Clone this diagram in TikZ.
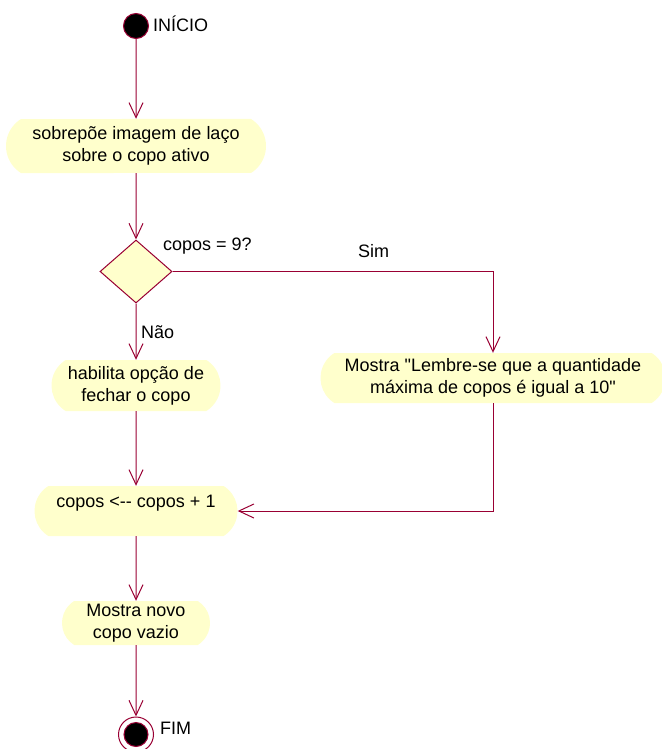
\documentclass[tikz,border=0pt]{standalone}
\usepackage{fontspec}
\usetikzlibrary{arrows.meta,shapes.geometric,shapes.misc}
\newfontfamily\umlfont{Liberation Sans}
\definecolor{flowline}{RGB}{153,0,51}
\definecolor{actfill}{RGB}{255,255,204}
\tikzset{
  every node/.style={font=\umlfont\fontsize{18}{22}\selectfont},
  activity/.style={rounded rectangle, rounded rectangle arc length=116,
    fill=actfill, draw=none, inner sep=0pt, align=center},
  decision/.style={diamond, fill=actfill, draw=flowline, line width=1pt,
    inner sep=0pt, minimum width=72pt, minimum height=63pt},
  flow/.style={draw=flowline, line width=1pt,
    -{Straight Barb[length=15pt,width=14pt,line width=1pt]}},
  lbl/.style={anchor=west, inner sep=0pt}
}
\begin{document}
\begin{tikzpicture}[x=1pt,y=-1pt]
\useasboundingbox (0,0) rectangle (661,749);

% initial state
\node[circle, fill=black, draw=flowline, line width=1pt, minimum size=25pt,
  inner sep=0pt] (start) at (136,26) {};
\node[lbl] (startlbl) at (153,24) {INÍCIO};

% activities
\node[activity, minimum width=260pt, minimum height=54pt] (laco) at (136,146)
  {sobrepõe imagem de laço\\sobre o copo ativo};
\node[decision] (dec) at (136,271.5) {};
\node[lbl] (cond) at (163,246) {copos = 9?};
\node[lbl] (sim) at (358,251) {Sim};
\node[lbl] (nao) at (141,332) {Não};
\node[activity, minimum width=169pt, minimum height=51pt] (fechar) at (136,385.5)
  {habilita opção de\\fechar o copo};
\node[activity, minimum width=345pt, minimum height=50pt] (aviso) at (493,378)
  {Mostra "Lembre-se que a quantidade\\máxima de copos é igual a 10"};
\node[activity, minimum width=203pt, minimum height=50pt] (incr) at (136,511)
  {copos <-{}- copos + 1\\[-3pt]~};
\node[activity, minimum width=148pt, minimum height=44pt] (novo) at (136,623)
  {Mostra novo\\copo vazio};

% final state
\node[circle, fill=white, draw=flowline, line width=1pt, minimum size=35pt,
  inner sep=0pt] (fim) at (136,734.5) {};
\node[circle, fill=black, draw=flowline, line width=1pt, minimum size=24pt,
  inner sep=0pt] (fimdot) at (fim.center) {};
\node[lbl] (fimlbl) at (160,728) {FIM};

% transitions
\draw[flow] (start) -- (laco);
\draw[flow] (laco) -- (dec);
\draw[flow] (dec.east) -| (aviso.north);
\draw[flow] (dec) -- (fechar);
\draw[flow] (fechar) -- (incr);
\draw[flow] (aviso.south) |- (incr.east);
\draw[flow] (incr) -- (novo);
\draw[flow] (novo) -- (fim);
\end{tikzpicture}
\end{document}
